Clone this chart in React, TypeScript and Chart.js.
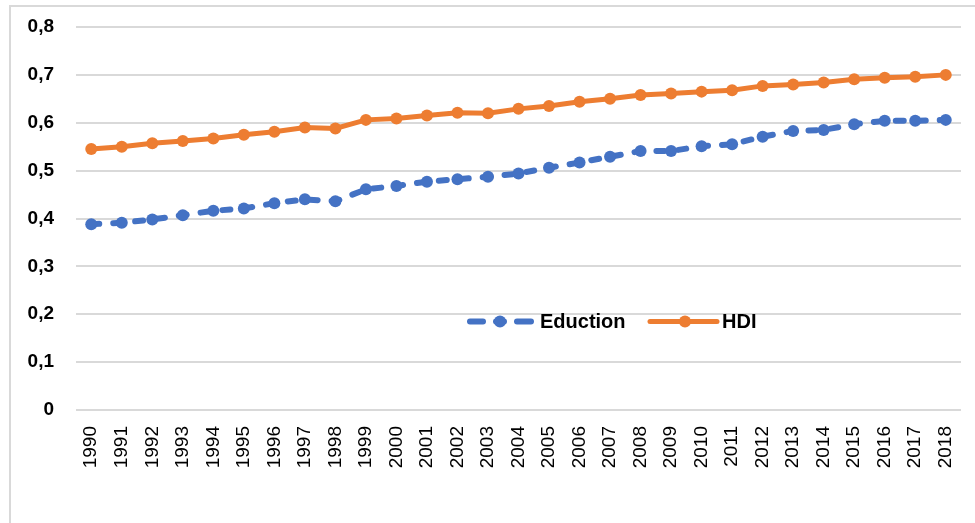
import React, { useEffect, useRef } from "react";
import { Chart, registerables } from "chart.js";

Chart.register(...registerables);

const years: string[] = [
  "1990", "1991", "1992", "1993", "1994", "1995", "1996", "1997", "1998", "1999",
  "2000", "2001", "2002", "2003", "2004", "2005", "2006", "2007", "2008", "2009",
  "2010", "2011", "2012", "2013", "2014", "2015", "2016", "2017", "2018",
];

const education: number[] = [
  0.388, 0.391, 0.398, 0.407, 0.416, 0.421, 0.432, 0.440, 0.436, 0.461,
  0.468, 0.477, 0.482, 0.487, 0.494, 0.506, 0.517, 0.529, 0.541, 0.541,
  0.551, 0.555, 0.571, 0.583, 0.585, 0.597, 0.604, 0.604, 0.606,
];

const hdi: number[] = [
  0.545, 0.550, 0.557, 0.562, 0.567, 0.575, 0.581, 0.590, 0.588, 0.606,
  0.609, 0.615, 0.621, 0.620, 0.629, 0.635, 0.644, 0.650, 0.658, 0.661,
  0.665, 0.668, 0.677, 0.680, 0.684, 0.691, 0.694, 0.696, 0.700,
];

const seriesNames: string[] = ["Eduction", "HDI"];
const BLUE = "#4472C4";
const ORANGE = "#ED7D31";

const legendPlugin = {
  id: "customLegend",
  afterDraw(chart: any) {
    const ctx = chart.ctx;
    const area = chart.chartArea;
    const y = area.top + 294.5;
    const x0 = area.left + 392;
    ctx.save();
    ctx.lineCap = "round";
    // Education sample
    ctx.strokeStyle = BLUE;
    ctx.lineWidth = 6;
    ctx.beginPath();
    ctx.moveTo(x0 + 2, y);
    ctx.lineTo(x0 + 15, y);
    ctx.moveTo(x0 + 49, y);
    ctx.lineTo(x0 + 63, y);
    ctx.moveTo(x0 + 28, y);
    ctx.lineTo(x0 + 36, y);
    ctx.stroke();
    ctx.fillStyle = BLUE;
    ctx.beginPath();
    ctx.arc(x0 + 32, y, 6, 0, Math.PI * 2);
    ctx.fill();
    ctx.fillStyle = "#000";
    ctx.font = "bold 20px 'Liberation Sans', Arial, sans-serif";
    ctx.textBaseline = "middle";
    ctx.textAlign = "left";
    ctx.fillText(seriesNames[0], x0 + 72, y + 1);
    // HDI sample
    const x1 = x0 + 182;
    ctx.strokeStyle = ORANGE;
    ctx.lineWidth = 5;
    ctx.beginPath();
    ctx.moveTo(x1, y);
    ctx.lineTo(x1 + 67, y);
    ctx.stroke();
    ctx.fillStyle = ORANGE;
    ctx.beginPath();
    ctx.arc(x1 + 35, y, 6, 0, Math.PI * 2);
    ctx.fill();
    ctx.fillStyle = "#000";
    ctx.fillText(seriesNames[1], x1 + 72, y + 1);
    ctx.restore();
  },
};

export default function App() {
  const canvasRef = useRef<HTMLCanvasElement | null>(null);

  useEffect(() => {
    const canvas = canvasRef.current;
    if (!canvas) return;
    const chart = new Chart(canvas, {
      type: "line",
      data: {
        labels: years,
        datasets: [
          {
            label: seriesNames[0],
            data: education,
            borderColor: BLUE,
            backgroundColor: BLUE,
            borderWidth: 6,
            borderDash: [8, 14],
            borderCapStyle: "round",
            pointRadius: 6,
            pointBorderWidth: 0,
            pointBackgroundColor: BLUE,
            tension: 0,
          },
          {
            label: seriesNames[1],
            data: hdi,
            borderColor: ORANGE,
            backgroundColor: ORANGE,
            borderWidth: 5,
            borderCapStyle: "round",
            pointRadius: 6,
            pointBorderWidth: 0,
            pointBackgroundColor: ORANGE,
            tension: 0,
          },
        ],
      },
      options: {
        responsive: false,
        animation: false,
        layout: { padding: { left: 0, right: 14, top: 27, bottom: 0 } },
        plugins: {
          legend: { display: false },
          tooltip: { enabled: false },
        },
        scales: {
          x: {
            offset: true,
            grid: { display: false, drawTicks: true, tickLength: 16, tickColor: "rgba(0,0,0,0)" },
            border: { display: false },
            ticks: {
              minRotation: 90,
              maxRotation: 90,
              autoSkip: false,
              padding: 0,
              color: "#000",
              font: { family: "'Liberation Sans', Arial, sans-serif", size: 19 },
            },
            afterFit: (s: any) => {
              s.height = 113;
            },
          },
          y: {
            min: 0,
            max: 0.8,
            grid: { color: "#d9d9d9", lineWidth: 2, drawTicks: true, tickLength: 22, tickColor: "rgba(0,0,0,0)" },
            border: { display: false },
            ticks: {
              stepSize: 0.1,
              padding: 0,
              color: "#000",
              font: { family: "'Liberation Sans', Arial, sans-serif", size: 19, weight: "bold" },
              callback: (v: any) => {
                const n = Number(v);
                if (Math.abs(n) < 1e-9) return "0";
                return n.toFixed(1).replace(".", ",");
              },
            },
            afterFit: (s: any) => {
              s.width = 76;
            },
          },
        },
      },
      plugins: [legendPlugin],
    });
    return () => chart.destroy();
  }, []);

  return (
    <div style={{ position: "fixed", left: 0, top: 0, width: 975, height: 523, background: "#fff", overflow: "hidden" }}>
      <div
        style={{
          position: "absolute",
          left: 9,
          top: 5,
          right: -5,
          bottom: -5,
          borderLeft: "2px solid #d9d9d9",
          borderTop: "2px solid #d9d9d9",
        }}
      />
      <canvas ref={canvasRef} width={975} height={523} style={{ position: "absolute", left: 0, top: 0 }} />
    </div>
  );
}
